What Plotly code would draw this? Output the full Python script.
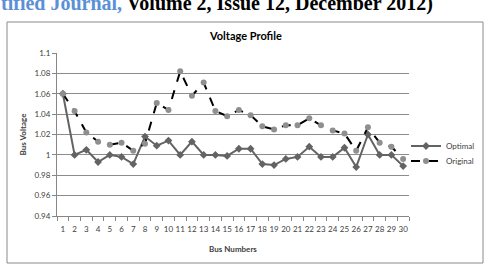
import plotly.graph_objects as go

buses = [str(i) for i in range(1, 31)]
optimal = [1.060, 1.000, 1.005, 0.993, 1.000, 0.998, 0.991, 1.018, 1.009, 1.014,
           1.000, 1.013, 1.000, 1.000, 0.999, 1.006, 1.006, 0.991, 0.990, 0.996,
           0.998, 1.008, 0.998, 0.998, 1.007, 0.988, 1.020, 1.000, 1.000, 0.989]
original = [1.060, 1.043, 1.022, 1.013, 1.010, 1.012, 1.004, 1.011, 1.051, 1.044,
            1.082, 1.058, 1.071, 1.043, 1.038, 1.044, 1.039, 1.028, 1.025, 1.029,
            1.029, 1.036, 1.029, 1.024, 1.021, 1.004, 1.027, 1.012, 1.008, 0.996]
ytick_vals = [0.94, 0.96, 0.98, 1.0, 1.02, 1.04, 1.06, 1.08, 1.1]
ytick_text = ["0.94", "0.96", "0.98", "1", "1.02", "1.04", "1.06", "1.08", "1.1"]

W, H = 484, 264
L, R, T, B = 57, 409, 53, 216

def px(x):
    return (x - L) / (R - L)

def py(y):
    return (B - y) / (B - T)

FONT = "Lato"
TXT = "#404040"
fig = go.Figure()
fig.add_trace(go.Scatter(
    x=buses, y=optimal, name="Optimal", mode="lines+markers",
    line=dict(color="#636363", width=2),
    marker=dict(symbol="diamond", size=6, color="#636363"),
    legend="legend",
))
fig.add_trace(go.Scatter(
    x=buses, y=original, name="Original", mode="lines+markers",
    line=dict(color="#000000", width=2, dash="dash"),
    marker=dict(symbol="circle", size=6, color="#8f8f8f"),
    legend="legend2",
))

leg_common = dict(xanchor="left", yanchor="middle", font=dict(family=FONT, size=8, color=TXT),
                  itemwidth=30, bgcolor="rgba(0,0,0,0)", borderwidth=0)

fig.update_layout(
    width=W, height=H,
    margin=dict(l=L, r=W - R, t=T, b=H - B, autoexpand=False),
    paper_bgcolor="white", plot_bgcolor="white",
    font=dict(family=FONT, size=8, color=TXT),
    showlegend=True,
    legend=dict(x=px(406), y=py(146), **leg_common),
    legend2=dict(x=px(406), y=py(161), **leg_common),
    xaxis=dict(type="category", range=[-0.5, 29.5], tickson="boundaries", tickangle=0,
               ticks="outside", ticklen=4, tickcolor="#868686", ticklabelstandoff=5,
               showline=True, linecolor="#868686", linewidth=1,
               showgrid=False, tickfont=dict(family=FONT, size=8, color=TXT),
               title=dict(text="<b>Bus Numbers</b>", font=dict(family=FONT, size=8, color=TXT),
                          standoff=13)),
    yaxis=dict(range=[0.94, 1.1], tickvals=ytick_vals, ticktext=ytick_text,
               ticks="outside", ticklen=4, tickcolor="#868686",
               showline=True, linecolor="#868686", linewidth=1,
               showgrid=True, gridcolor="#8c8c8c", gridwidth=1, zeroline=False,
               tickfont=dict(family=FONT, size=8, color=TXT),
               title=dict(text="<b>Bus Voltage</b>", font=dict(family=FONT, size=8, color=TXT),
                          standoff=6)),
)

# outer chart border
fig.add_shape(type="rect", xref="paper", yref="paper",
              x0=px(7), x1=px(483), y0=py(263), y1=py(22),
              line=dict(color="#8a8a8a", width=1), fillcolor="rgba(0,0,0,0)", layer="below")

# chart title
fig.add_annotation(text="<b>Voltage Profile</b>", xref="paper", yref="paper",
                   x=px(245), y=py(35), xanchor="center", yanchor="middle",
                   showarrow=False, font=dict(family=FONT, size=11, color="#000000"))

# page header text (cut off at top, as in the source page)
fig.add_annotation(text="<b><span style='color:#5b8fd6'>tified Journal,</span> Volume 2, Issue 12, December 2012)</b>",
                   xref="paper", yref="paper", x=px(-1), y=py(17),
                   xanchor="left", yanchor="bottom", showarrow=False,
                   font=dict(family="Liberation Serif", size=20, color="#000000"))

fig.write_html("out.html")
